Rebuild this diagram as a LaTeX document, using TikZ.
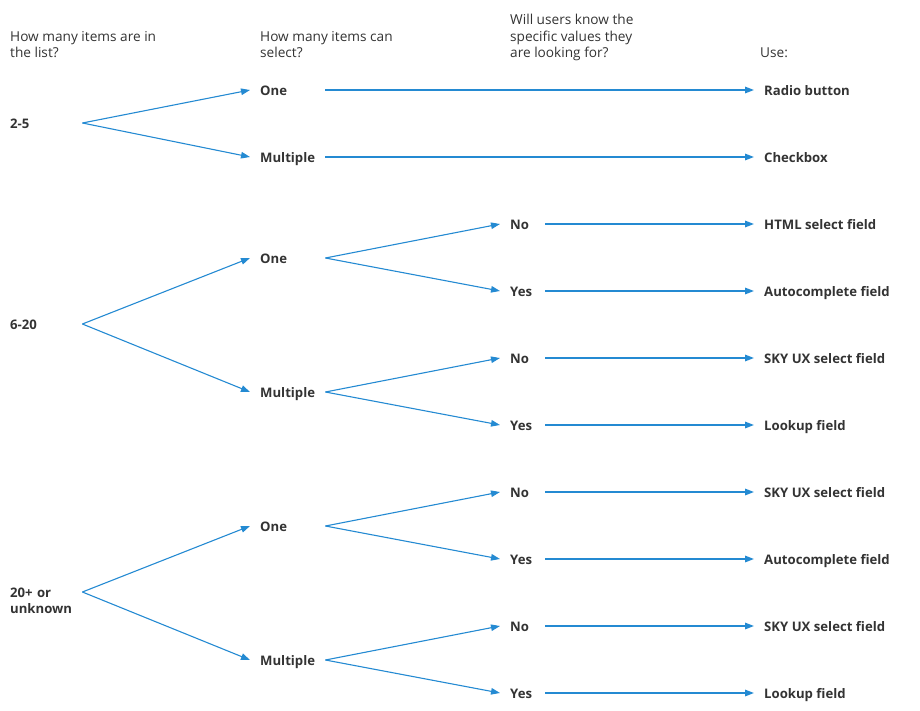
\documentclass[tikz,border=0pt]{standalone}
\usepackage{fontspec}
\setmainfont{Open Sans}
\usetikzlibrary{arrows.meta}
\definecolor{lineblue}{RGB}{36,138,210}
\definecolor{txt}{RGB}{51,51,51}
\tikzset{
  x=1bp, y=-1bp,
  every node/.style={text=txt, font=\fontsize{13.7}{16.8}\selectfont},
  header/.style={anchor=base west, inner sep=0pt, align=left},
  lbl/.style={anchor=west, inner ysep=0pt, inner xsep=10bp, text height=10.6bp, text depth=0.4bp, align=left, font=\fontsize{13.2}{16.8}\selectfont\bfseries},
  col1/.style={lbl, text width=62bp},
  col2/.style={lbl, text width=55bp},
  col3/.style={lbl, text width=25bp},
  res/.style={lbl},
  conn/.style={draw=lineblue, line width=1.1bp, -{Triangle[length=9bp,width=6.5bp]}},
  hconn/.style={conn, line width=1.5bp},
}
\begin{document}
\begin{tikzpicture}
\useasboundingbox (0,0) rectangle (920,711);
% headers (base = last line)
\node[header] (h1) at (10,58) {How many items are in\\the list?};
\node[header] (h2) at (260,58) {How many items can\\select?};
\node[header] (h3) at (510,58) {Will users know the\\specific values they\\are looking for?};
\node[header] (h4) at (760,58) {Use:};

% group 1: 2-5
\node[col1] (a) at (0,123) {2-5};
\node[col2] (a1) at (250,90) {One};
\node[col2] (a2) at (250,157) {Multiple};
\node[res] (ra1) at (754,90) {Radio button};
\node[res] (ra2) at (754,157) {Checkbox};
\draw[conn] (a.east) -- (a1.west);
\draw[conn] (a.east) -- (a2.west);
\draw[hconn] (a1.east) -- (ra1.west);
\draw[hconn] (a2.east) -- (ra2.west);

% group 2: 6-20
\node[col1] (b) at (0,324) {6-20};
\node[col2] (b1) at (250,258) {One};
\node[col2] (b2) at (250,392) {Multiple};
\node[col3] (b11) at (500,224) {No};
\node[col3] (b12) at (500,291) {Yes};
\node[col3] (b21) at (500,358) {No};
\node[col3] (b22) at (500,425) {Yes};
\node[res] (rb11) at (754,224) {HTML select field};
\node[res] (rb12) at (754,291) {Autocomplete field};
\node[res] (rb21) at (754,358) {SKY UX select field};
\node[res] (rb22) at (754,425) {Lookup field};
\draw[conn] (b.east) -- (b1.west);
\draw[conn] (b.east) -- (b2.west);
\draw[conn] (b1.east) -- (b11.west);
\draw[conn] (b1.east) -- (b12.west);
\draw[conn] (b2.east) -- (b21.west);
\draw[conn] (b2.east) -- (b22.west);
\draw[hconn] (b11.east) -- (rb11.west);
\draw[hconn] (b12.east) -- (rb12.west);
\draw[hconn] (b21.east) -- (rb21.west);
\draw[hconn] (b22.east) -- (rb22.west);

% group 3: 20+ or unknown
\node[col1] (c) at (0,592) {20+ or\\unknown};
\node[col2] (c1) at (250,526) {One};
\node[col2] (c2) at (250,660) {Multiple};
\node[col3] (c11) at (500,492) {No};
\node[col3] (c12) at (500,559) {Yes};
\node[col3] (c21) at (500,626) {No};
\node[col3] (c22) at (500,693) {Yes};
\node[res] (rc11) at (754,492) {SKY UX select field};
\node[res] (rc12) at (754,559) {Autocomplete field};
\node[res] (rc21) at (754,626) {SKY UX select field};
\node[res] (rc22) at (754,693) {Lookup field};
\draw[conn] (c.east) -- (c1.west);
\draw[conn] (c.east) -- (c2.west);
\draw[conn] (c1.east) -- (c11.west);
\draw[conn] (c1.east) -- (c12.west);
\draw[conn] (c2.east) -- (c21.west);
\draw[conn] (c2.east) -- (c22.west);
\draw[hconn] (c11.east) -- (rc11.west);
\draw[hconn] (c12.east) -- (rc12.west);
\draw[hconn] (c21.east) -- (rc21.west);
\draw[hconn] (c22.east) -- (rc22.west);
\end{tikzpicture}
\end{document}
